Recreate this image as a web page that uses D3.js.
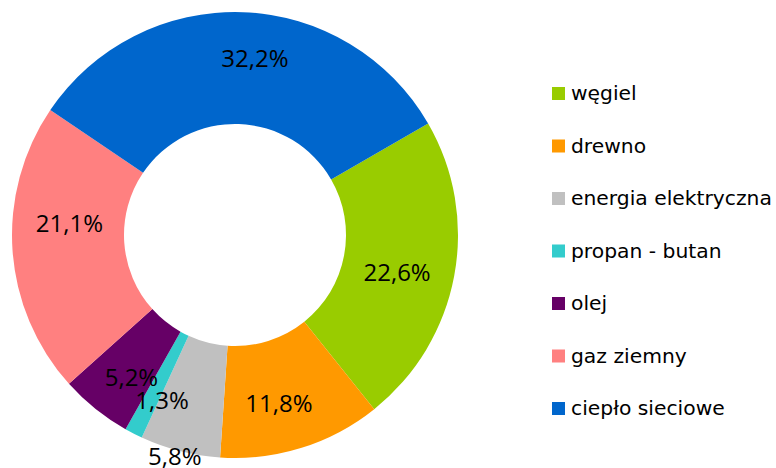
<!DOCTYPE html>
<html>
<head>
<meta charset="utf-8">
<script src="https://cdn.jsdelivr.net/npm/d3@7"></script>
<style>
  html, body { margin: 0; padding: 0; background: #fff; }
  svg { display: block; }
</style>
</head>
<body>
<svg id="chart" width="776" height="468"></svg>
<script>
const categories = ["węgiel", "drewno", "energia elektryczna", "propan - butan", "olej", "gaz ziemny", "ciepło sieciowe"];
const values = [22.6, 11.8, 5.8, 1.3, 5.2, 21.1, 32.2];
const labels = ["22,6%", "11,8%", "5,8%", "1,3%", "5,2%", "21,1%", "32,2%"];
const colors = ["#99CC00", "#FF9900", "#C0C0C0", "#33CCCC", "#660066", "#FF8080", "#0066CC"];
// label nudges (px) relative to the ring centroid, as Excel placed them
const labelNudgeX = [-2, -6, -19, 3, 1, 1, 14];
const labelNudgeY = [6, 8, 59, 16, 11, -24, -11];

const svg = d3.select("#chart");
const cx = 235, cy = 235, outerR = 223, innerR = 111;
const g = svg.append("g").attr("transform", `translate(${cx},${cy})`);

const pie = d3.pie().sort(null).value(d => d)
  .startAngle(60 * Math.PI / 180)
  .endAngle(420 * Math.PI / 180);
const arcs = pie(values);
const arc = d3.arc().innerRadius(innerR).outerRadius(outerR);
const midArc = d3.arc().innerRadius((innerR + outerR) / 2).outerRadius((innerR + outerR) / 2);

g.selectAll("path.slice").data(arcs).enter().append("path")
  .attr("class", "slice")
  .attr("d", arc)
  .attr("fill", (d, i) => colors[i]);

g.selectAll("text.lbl").data(arcs).enter().append("text")
  .attr("class", "lbl")
  .attr("x", (d, i) => midArc.centroid(d)[0] + labelNudgeX[i])
  .attr("y", (d, i) => midArc.centroid(d)[1] + labelNudgeY[i])
  .attr("text-anchor", "middle")
  .attr("dominant-baseline", "central")
  .attr("font-family", "'Open Sans', sans-serif")
  .attr("font-size", 24)
  .attr("fill", "#000")
  .text((d, i) => labels[i]);

// legend
const legY = d3.scalePoint().domain(categories).range([93, 408]);
const leg = svg.append("g");
const items = leg.selectAll("g").data(categories).enter().append("g")
  .attr("transform", d => `translate(552,${legY(d)})`);
items.append("rect")
  .attr("x", 0).attr("y", -6).attr("width", 13).attr("height", 13)
  .attr("fill", (d, i) => colors[i]);
items.append("text")
  .attr("x", 19).attr("y", 0)
  .attr("dominant-baseline", "central")
  .attr("font-family", "'DejaVu Sans', sans-serif")
  .attr("font-size", 20.3)
  .attr("fill", "#000")
  .text(d => d);
</script>
</body>
</html>
